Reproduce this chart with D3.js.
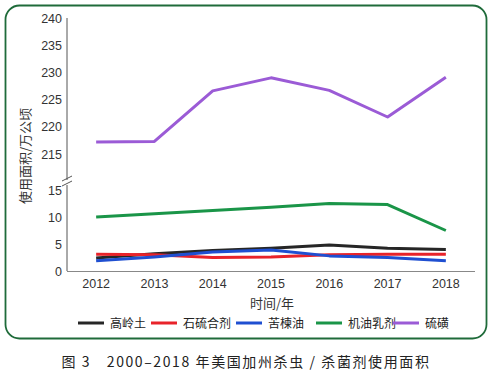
<!DOCTYPE html>
<html><head><meta charset="utf-8">
<script src="https://cdn.jsdelivr.net/npm/d3@7/dist/d3.min.js"></script>
<style>body{margin:0;background:#fff}svg{display:block}</style>
</head><body>
<svg id="c" width="492" height="379"></svg>
<script>
const years = ["2012","2013","2014","2015","2016","2017","2018"];
const seriesNames = ["高岭土","石硫合剂","苦楝油","机油乳剂","硫磺"];
const kaolin   = [2.4, 3.2, 3.8, 4.2, 4.8, 4.2, 4.0];
const limeSulf = [3.1, 3.0, 2.5, 2.6, 3.0, 3.1, 3.1];
const neemOil  = [1.9, 2.6, 3.5, 3.9, 2.8, 2.5, 1.9];
const oilEmul  = [10.0, 10.6, 11.2, 11.8, 12.5, 12.3, 7.5];
const sulfur   = [217.2, 217.3, 226.6, 229.0, 226.7, 221.8, 229.1];
const topTicks = [215, 220, 225, 230, 235, 240];
const bottomTicks = [0, 5, 10, 15];
const colors = ["#262626","#e8232a","#1f4fd1","#1a9548","#9b5bd6"];

const svg = d3.select("#c");
const font = "'Liberation Sans', Arial, sans-serif";
const cjk = "'Noto Sans CJK SC', sans-serif";

// frame
svg.append("rect").attr("x",5.5).attr("y",5.5).attr("width",481).attr("height",333)
  .attr("rx",14).attr("fill","none").attr("stroke","#1f6b3a").attr("stroke-width",1.8);

const x = d3.scaleBand().domain(years).range([67,475]).padding(0);
const yTop = d3.scaleLinear().domain([215,240]).range([154,18]);
const yBot = d3.scaleLinear().domain([0,15]).range([271,190]);

// axis lines
const axisColor = "#555";
svg.append("line").attr("x1",67).attr("x2",67).attr("y1",18).attr("y2",180).attr("stroke",axisColor);
svg.append("line").attr("x1",67).attr("x2",67).attr("y1",185).attr("y2",271).attr("stroke",axisColor);
svg.append("line").attr("x1",67).attr("x2",475).attr("y1",271.5).attr("y2",271.5).attr("stroke","#888");
// break marks
[178,183].forEach(yy=>{
  svg.append("line").attr("x1",62).attr("x2",72).attr("y1",yy+3).attr("y2",yy-2)
   .attr("stroke",axisColor).attr("stroke-width",1);
});

function styleAxis(g){
  g.select(".domain").remove();
  g.selectAll(".tick line").remove();
  g.selectAll(".tick text").attr("font-family",font).attr("font-size",12.5).attr("fill","#333");
}
svg.append("g").attr("transform","translate(64,0)")
  .call(d3.axisLeft(yTop).tickValues(topTicks).tickSize(0).tickPadding(2)).call(styleAxis);
svg.append("g").attr("transform","translate(64,0)")
  .call(d3.axisLeft(yBot).tickValues(bottomTicks).tickSize(0).tickPadding(2)).call(styleAxis);
svg.append("g").attr("transform","translate(0,271)")
  .call(d3.axisBottom(x).tickSize(0).tickPadding(8)).call(styleAxis);

// lines
const lowSeries = [kaolin, limeSulf, neemOil, oilEmul];
lowSeries.forEach((vals,i)=>{
  const line = d3.line().x((d,j)=>x(years[j])+x.bandwidth()/2).y(d=>yBot(d));
  svg.append("path").datum(vals).attr("d",line).attr("fill","none")
    .attr("stroke",colors[i]).attr("stroke-width",3).attr("stroke-linejoin","round");
});
const topLine = d3.line().x((d,j)=>x(years[j])+x.bandwidth()/2).y(d=>yTop(d));
svg.append("path").datum(sulfur).attr("d",topLine).attr("fill","none")
  .attr("stroke",colors[4]).attr("stroke-width",3).attr("stroke-linejoin","round");

// axis titles
svg.append("text").attr("transform","translate(30,156) rotate(-90)").attr("text-anchor","middle")
  .attr("font-family",cjk).attr("font-size",13).attr("fill","#333").text("使用面积/万公顷");
svg.append("text").attr("x",272).attr("y",308).attr("text-anchor","middle")
  .attr("font-family",cjk).attr("font-size",13).attr("fill","#333").text("时间/年");

// legend
const legendX = [78,151,236,316,393];
seriesNames.forEach((n,i)=>{
  svg.append("line").attr("x1",legendX[i]).attr("x2",legendX[i]+26).attr("y1",323).attr("y2",323)
    .attr("stroke",colors[i]).attr("stroke-width",3);
  svg.append("text").attr("x",legendX[i]+32).attr("y",327.5).attr("font-family",cjk)
    .attr("font-size",12).attr("fill","#222").text(n);
});

// caption
svg.append("text").attr("x",246).attr("y",367).attr("text-anchor","middle")
  .attr("font-family",cjk).attr("font-size",14).attr("fill","#222").attr("letter-spacing",1.6)
  .text("图 3　2000–2018 年美国加州杀虫 / 杀菌剂使用面积");
</script>
</body></html>
